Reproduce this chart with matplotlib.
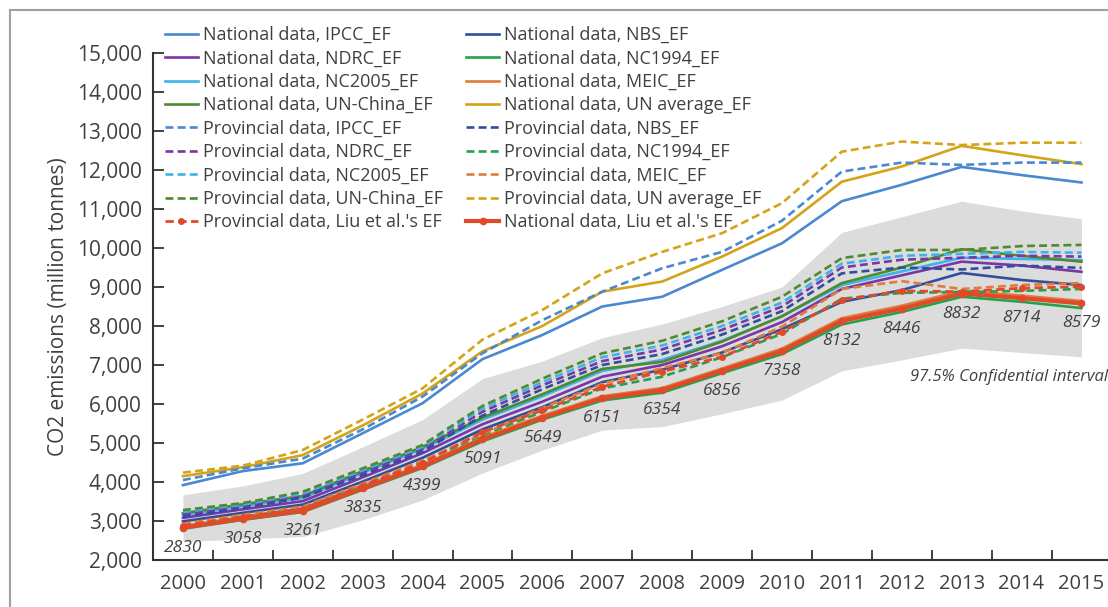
import matplotlib
matplotlib.use("Agg")
from matplotlib import pyplot as plt
from matplotlib.patches import Rectangle
from matplotlib.ticker import FuncFormatter, FixedLocator

plt.rcParams["font.family"] = ["Open Sans", "DejaVu Sans"]

# years on the x axis
YEARS = [str(y) for y in range(2000, 2016)]

# national data series (million tonnes)
NAT_IPCC = [3920, 4280, 4480, 5250, 6020, 7150, 7770, 8500, 8750, 9440, 10120, 11200, 11620, 12080, 11870, 11680]
NAT_NBS = [2990, 3210, 3420, 4010, 4620, 5350, 5920, 6560, 6880, 7320, 7920, 8620, 8920, 9360, 9180, 9050]
NAT_NDRC = [3080, 3300, 3510, 4120, 4740, 5480, 6060, 6700, 7000, 7480, 8100, 8950, 9300, 9650, 9550, 9390]
NAT_NC1994 = [2800, 3030, 3230, 3800, 4360, 5040, 5600, 6090, 6290, 6790, 7280, 8040, 8360, 8750, 8620, 8460]
NAT_NC2005 = [3150, 3380, 3590, 4230, 4850, 5600, 6200, 6850, 7130, 7620, 8250, 9050, 9400, 9750, 9720, 9690]
NAT_MEIC = [2870, 3100, 3300, 3880, 4440, 5140, 5700, 6200, 6410, 6910, 7420, 8200, 8520, 8900, 8780, 8640]
NAT_UNCHINA = [3200, 3430, 3640, 4280, 4900, 5650, 6250, 6900, 7080, 7600, 8250, 9100, 9500, 9970, 9800, 9650]
NAT_UNAVG = [4150, 4380, 4690, 5450, 6270, 7350, 8000, 8880, 9140, 9780, 10510, 11700, 12090, 12620, 12380, 12150]
NAT_LIU = [2830, 3058, 3261, 3835, 4399, 5091, 5649, 6151, 6354, 6856, 7358, 8132, 8446, 8832, 8714, 8579]

# provincial data series (million tonnes)
PROV_IPCC = [4050, 4350, 4600, 5350, 6190, 7300, 8150, 8880, 9480, 9900, 10700, 11960, 12190, 12130, 12190, 12190]
PROV_NBS = [3120, 3330, 3600, 4180, 4780, 5700, 6380, 7000, 7280, 7780, 8380, 9350, 9500, 9450, 9550, 9490]
PROV_NDRC = [3180, 3380, 3660, 4250, 4850, 5800, 6480, 7100, 7400, 7900, 8500, 9500, 9700, 9750, 9800, 9780]
PROV_NC1994 = [2900, 3130, 3330, 3930, 4520, 5200, 5800, 6400, 6700, 7200, 7800, 8700, 8850, 8870, 8900, 8950]
PROV_NC2005 = [3230, 3420, 3700, 4300, 4900, 5880, 6560, 7200, 7500, 8000, 8600, 9600, 9800, 9850, 9900, 9880]
PROV_MEIC = [2930, 3160, 3370, 3960, 4550, 5230, 5900, 6520, 6920, 7310, 7980, 8950, 9150, 8950, 9050, 9100]
PROV_UNCHINA = [3280, 3460, 3750, 4350, 4950, 5950, 6650, 7300, 7620, 8120, 8750, 9740, 9950, 9950, 10050, 10080]
PROV_UNAVG = [4240, 4420, 4820, 5600, 6400, 7650, 8410, 9350, 9900, 10380, 11150, 12470, 12730, 12640, 12700, 12700]
PROV_LIU = [2880, 3110, 3320, 3910, 4490, 5280, 5840, 6440, 6830, 7210, 7850, 8670, 8900, 8880, 8970, 9010]

# 97.5% confidence band
CI_LOW = [2470, 2540, 2600, 3030, 3540, 4230, 4820, 5330, 5420, 5750, 6100, 6850, 7130, 7430, 7320, 7210]
CI_HIGH = [3670, 3900, 4220, 4900, 5600, 6650, 7100, 7700, 8050, 8500, 9000, 10400, 10800, 11200, 10950, 10750]

TEXT_COLOR = "#404040"

C_IPCC = "#4a88d0"
C_NBS = "#2f4f9e"
C_NDRC = "#7a35a8"
C_NC1994 = "#22a34a"
C_NC2005 = "#3cb4ea"
C_MEIC = "#e07b39"
C_UNCHINA = "#4f8a2c"
C_UNAVG = "#d4a317"
C_LIU = "#e04a2a"


def main():
    fig = plt.figure(figsize=(11.08, 6.07), dpi=100)
    ax = fig.add_axes([153 / 1108, 1 - 560 / 607, 958.4 / 1108, 507 / 607])

    # outer frame of the figure
    fig.patches.append(Rectangle((10 / 1108, -0.1), 1.2, 1.1 - 10 / 607, transform=fig.transFigure,
                                 fill=False, edgecolor="#a0a0a0", linewidth=1.5))

    x = list(range(len(YEARS)))
    ax.fill_between(x, CI_LOW, CI_HIGH, color="#dcdcdc", linewidth=0, zorder=1)

    dash = (0, (3.0, 1.6))
    lw = 1.9
    h = {}
    h["nat_ipcc"], = ax.plot(x, NAT_IPCC, color=C_IPCC, lw=lw, label="National data, IPCC_EF")
    h["nat_nbs"], = ax.plot(x, NAT_NBS, color=C_NBS, lw=lw, label="National data, NBS_EF")
    h["nat_ndrc"], = ax.plot(x, NAT_NDRC, color=C_NDRC, lw=lw, label="National data, NDRC_EF")
    h["nat_nc1994"], = ax.plot(x, NAT_NC1994, color=C_NC1994, lw=lw, label="National data, NC1994_EF")
    h["nat_nc2005"], = ax.plot(x, NAT_NC2005, color=C_NC2005, lw=lw, label="National data, NC2005_EF")
    h["nat_meic"], = ax.plot(x, NAT_MEIC, color=C_MEIC, lw=lw, label="National data, MEIC_EF")
    h["nat_unchina"], = ax.plot(x, NAT_UNCHINA, color=C_UNCHINA, lw=lw, label="National data, UN-China_EF")
    h["nat_unavg"], = ax.plot(x, NAT_UNAVG, color=C_UNAVG, lw=lw, label="National data, UN average_EF")

    h["prov_ipcc"], = ax.plot(x, PROV_IPCC, color=C_IPCC, lw=lw, ls=dash, label="Provincial data, IPCC_EF")
    h["prov_nbs"], = ax.plot(x, PROV_NBS, color=C_NBS, lw=lw, ls=dash, label="Provincial data, NBS_EF")
    h["prov_ndrc"], = ax.plot(x, PROV_NDRC, color=C_NDRC, lw=lw, ls=dash, label="Provincial data, NDRC_EF")
    h["prov_nc1994"], = ax.plot(x, PROV_NC1994, color=C_NC1994, lw=lw, ls=dash, label="Provincial data, NC1994_EF")
    h["prov_nc2005"], = ax.plot(x, PROV_NC2005, color=C_NC2005, lw=lw, ls=dash, label="Provincial data, NC2005_EF")
    h["prov_meic"], = ax.plot(x, PROV_MEIC, color=C_MEIC, lw=lw, ls=dash, label="Provincial data, MEIC_EF")
    h["prov_unchina"], = ax.plot(x, PROV_UNCHINA, color=C_UNCHINA, lw=lw, ls=dash, label="Provincial data, UN-China_EF")
    h["prov_unavg"], = ax.plot(x, PROV_UNAVG, color=C_UNAVG, lw=lw, ls=dash, label="Provincial data, UN average_EF")
    h["prov_liu"], = ax.plot(x, PROV_LIU, color=C_LIU, lw=2.0, ls=dash, marker="o", ms=4,
                             label="Provincial data, Liu et al.'s EF")
    h["nat_liu"], = ax.plot(x, NAT_LIU, color=C_LIU, lw=3.0, marker="o", ms=4.5,
                            label="National data, Liu et al.'s EF", zorder=3)

    # value labels under the national Liu et al. line
    for xi, v in zip(x, NAT_LIU):
        ax.annotate(str(v), (xi, v), xytext=(0, -20), textcoords="offset pixels",
                    ha="center", va="center", fontsize=12.5, style="italic", color=TEXT_COLOR)

    ax.text(12.14, 6700, "97.5% Confidential interval", fontsize=12, style="italic",
            color=TEXT_COLOR, ha="left", va="center")

    ax.set_xlim(-0.5, 15.5)
    ax.set_ylim(2000, 15000)
    ax.set_xticks(x)
    ax.set_xticklabels(YEARS)
    ax.xaxis.set_minor_locator(FixedLocator([i + 0.5 for i in range(-1, 16)]))
    ax.tick_params(axis="x", which="major", length=0, pad=10, labelsize=14.5, labelcolor=TEXT_COLOR)
    ax.tick_params(axis="x", which="minor", direction="in", length=7, width=1.3, color="#333333")
    ax.set_yticks(range(2000, 15001, 1000))
    ax.yaxis.set_major_formatter(FuncFormatter(lambda v, p: f"{int(v):,}"))
    ax.tick_params(axis="y", direction="in", length=8, width=1.3, color="#333333",
                   labelsize=15, labelcolor=TEXT_COLOR, pad=8)
    ax.set_ylabel("CO2 emissions (million tonnes)", fontsize=15, color=TEXT_COLOR, labelpad=6)

    for side in ["top", "right"]:
        ax.spines[side].set_visible(False)
    for side in ["left", "bottom"]:
        ax.spines[side].set_color("#333333")
        ax.spines[side].set_linewidth(1.5)

    col1 = ["nat_ipcc", "nat_ndrc", "nat_nc2005", "nat_unchina",
            "prov_ipcc", "prov_ndrc", "prov_nc2005", "prov_unchina", "prov_liu"]
    col2 = ["nat_nbs", "nat_nc1994", "nat_meic", "nat_unavg",
            "prov_nbs", "prov_nc1994", "prov_meic", "prov_unavg", "nat_liu"]
    handles = [h[k] for k in col1 + col2]
    leg = fig.legend(handles=handles, labels=[hh.get_label() for hh in handles], ncol=2,
                     loc="upper left", bbox_to_anchor=(165 / 1108, 1 - 26 / 607),
                     frameon=False, fontsize=13, handlelength=1.8, handletextpad=0.3,
                     labelspacing=0.3, columnspacing=1.3, borderpad=0, borderaxespad=0)
    for t in leg.get_texts():
        t.set_color(TEXT_COLOR)

    fig.savefig("out.png", dpi=100)


if __name__ == "__main__":
    main()
